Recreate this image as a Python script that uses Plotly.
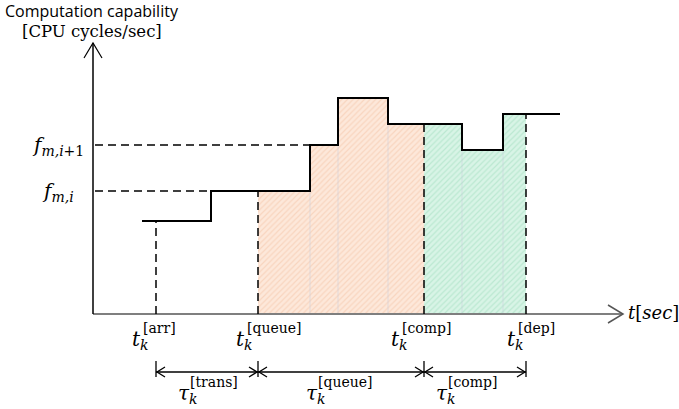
import plotly.graph_objects as go

# ---- data (chart units: x = time, y = computation capability) ----
step_t = [142, 211, 310, 338, 388, 462, 503, 560]      # breakpoints of the capability step function
step_f = [188, 218, 264, 311, 285, 259, 295]           # capability level on each interval
event_names = ["arr", "queue", "comp", "dep"]
event_t = [156, 258, 424, 526]                         # t_k^[arr], t_k^[queue], t_k^[comp], t_k^[dep]
delay_names = ["trans", "queue", "comp"]
f_levels = [264, 218]                                  # f_{m,i+1}, f_{m,i}
f_labels = ["<i>f</i><sub><i>m,i</i>+1</sub>", "<i>f</i><sub><i>m,i</i></sub>"]
f_dash_end = [310, 211]
origin_t, origin_f = 93, 95
t_axis_end, f_axis_end = 623, 366

W, H = 679, 409
SERIF = "DejaVu Serif"

fig = go.Figure()


def level_at(t):
    for i in range(len(step_f)):
        if step_t[i] <= t < step_t[i + 1]:
            return step_f[i]
    return step_f[-1]


def add_line(xs, ys, color="black", width=1.5, dash=None):
    fig.add_trace(go.Scatter(x=xs, y=ys, mode="lines", hoverinfo="skip",
                             line=dict(color=color, width=width, dash=dash),
                             showlegend=False))


def fill_region(a, b, bg, fg):
    cuts = [a] + [t for t in step_t if a < t < b] + [b]
    for i in range(len(cuts) - 1):
        x0, x1 = cuts[i], cuts[i + 1]
        lv = level_at(x0)
        fig.add_trace(go.Scatter(
            x=[x0, x0, x1, x1, x0], y=[origin_f, lv, lv, origin_f, origin_f],
            mode="none", fill="toself", fillcolor=bg, hoverinfo="skip",
            fillpattern=dict(shape="/", bgcolor=bg, fgcolor=fg, size=4, solidity=0.3),
            showlegend=False))
    for t in cuts[1:-1]:
        add_line([t, t], [origin_f + 1, level_at(t) - 1], color="rgba(200,205,220,0.25)", width=2)


# hatched regions
fill_region(event_t[1], event_t[2], "#fde8da", "#f4c2a4")
fill_region(event_t[2], event_t[3], "#d8f4e6", "#9edcbc")

# axes
add_line([origin_t, t_axis_end], [origin_f, origin_f], color="#7f7f7f", width=2)
add_line([t_axis_end - 15, t_axis_end, t_axis_end - 15], [origin_f + 9, origin_f, origin_f - 9], color="#555555", width=1.5)
add_line([origin_t, origin_t], [origin_f, f_axis_end], color="black", width=1.5)
add_line([origin_t - 9, origin_t, origin_t + 9], [f_axis_end - 15, f_axis_end, f_axis_end - 15], color="black", width=1.2)

# dashed reference lines
for lv, xe in zip(f_levels, f_dash_end):
    add_line([origin_t + 2, xe], [lv, lv], dash="8px,5px")
for t in event_t:
    add_line([t, t], [origin_f, level_at(t)], dash="8px,5px")

# step function
add_line(step_t, step_f + [step_f[-1]], color="black", width=2)
fig.data[-1].line.shape = "hv"

# delay brackets
by, bt, bb = 37, 48, 32
for t in event_t:
    add_line([t, t], [bb, bt], color="black", width=1.3)
for i in range(len(delay_names)):
    a, b = event_t[i], event_t[i + 1]
    add_line([a, b], [by, by], color="black", width=1.3)
    add_line([a + 9, a + 1, a + 9], [by + 5, by, by - 5], color="black", width=1.3)
    add_line([b - 9, b - 1, b - 9], [by + 5, by, by - 5], color="black", width=1.3)

ann = []


def text(x, y, s, size, family=SERIF, xanchor="left", color="black"):
    ann.append(dict(x=x, y=y, xref="x", yref="y", text=s, showarrow=False,
                    xanchor=xanchor, yanchor="middle",
                    font=dict(family=family, size=size, color=color)))


# event time labels
t_offsets = [-25, -23, -34, -20]
for name, t, off in zip(event_names, event_t, t_offsets):
    text(t + off - 1, 409 - 340, "<i>t</i><sub><i>k</i></sub>", 20)
    text(t + off + 10, 409 - 328, "[" + name + "]", 14)

# delay labels
tau_left = [177, 305, 435]
for name, x in zip(delay_names, tau_left):
    text(x - 1, 409 - 394, "<i>τ</i><sub><i>k</i></sub>", 20)
    text(x + 11, 409 - 382, "[" + name + "]", 14)

# level labels
for lab, lv, xr in zip(f_labels, f_levels, [86, 76]):
    text(xr, lv - 1, lab, 20, xanchor="right")

# axis titles
text(92, 409 - 11, "Computation capability", 16, family="Open Sans", xanchor="center")
text(92, 409 - 31, "[CPU cycles/sec]", 16.5, xanchor="center")
text(626, origin_f + 2, "<i>t</i>[<i>sec</i>]", 18)

fig.update_layout(
    width=W, height=H, margin=dict(l=0, r=0, t=0, b=0),
    paper_bgcolor="white", plot_bgcolor="white",
    xaxis=dict(range=[0, W], visible=False, fixedrange=True),
    yaxis=dict(range=[0, H], visible=False, fixedrange=True),
    annotations=ann, showlegend=False,
)

fig.write_html("out.html")
